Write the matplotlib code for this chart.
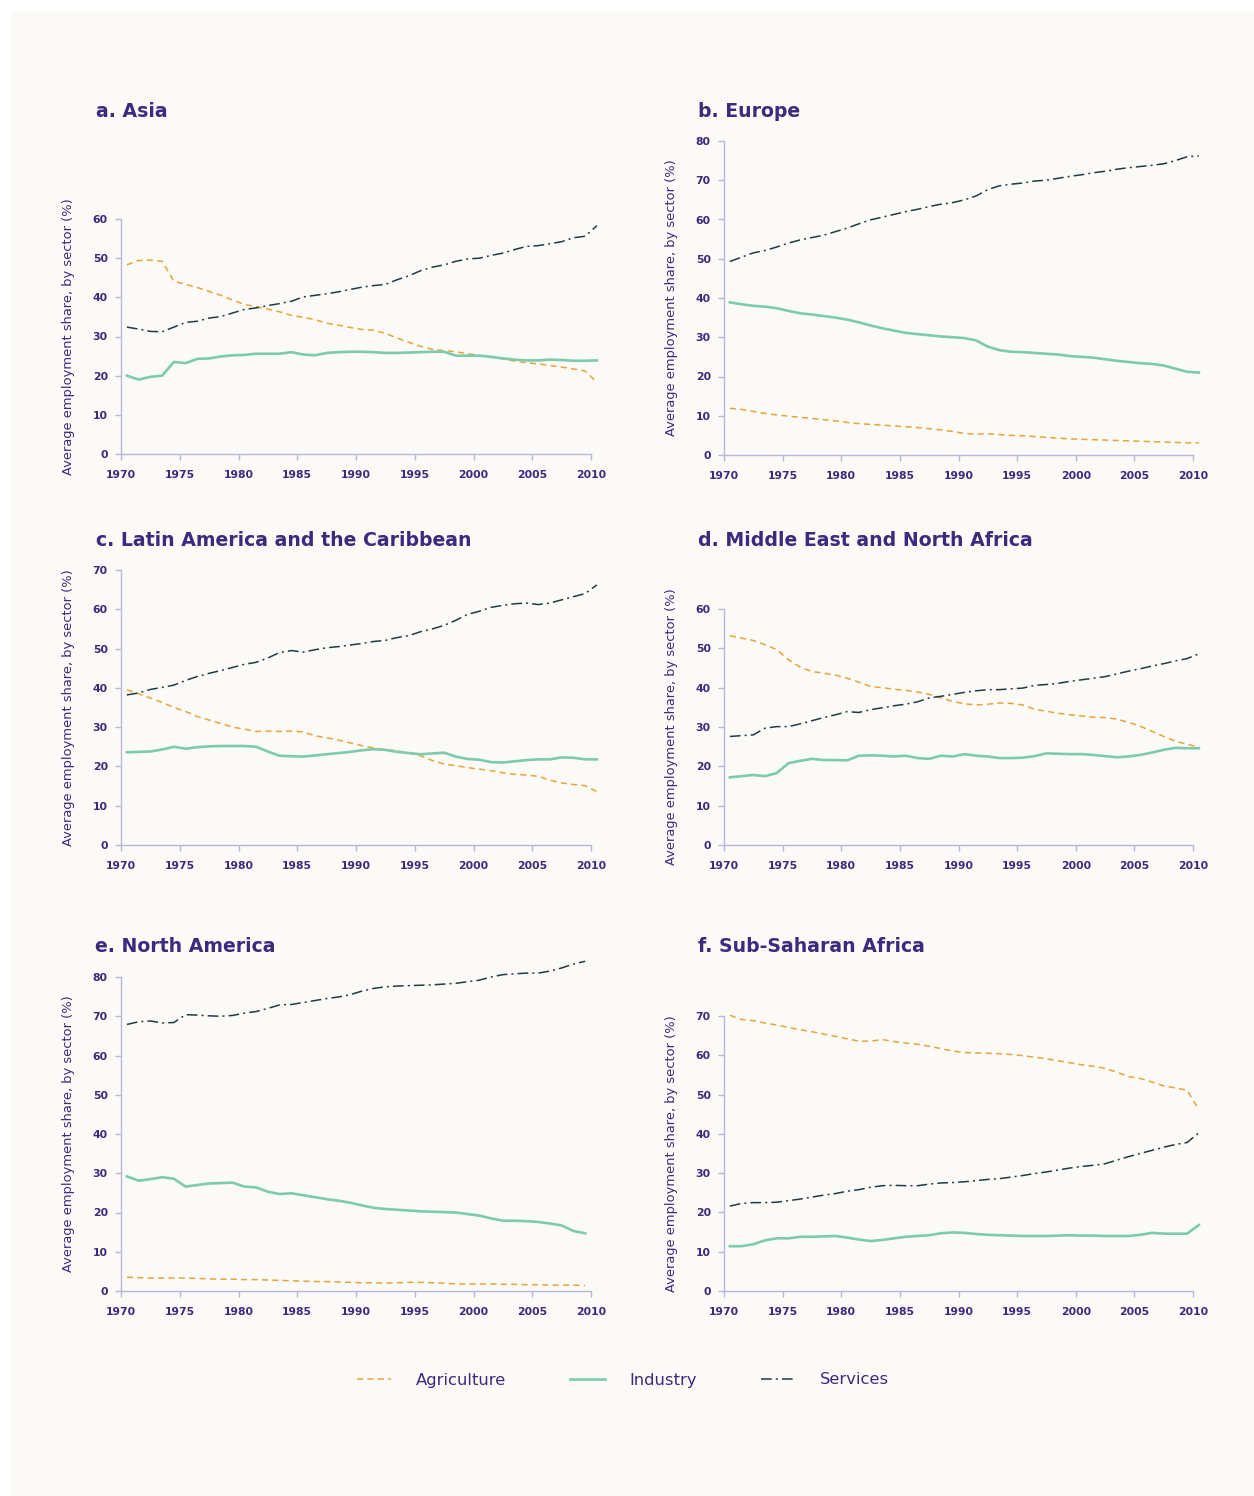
import numpy as np
import matplotlib
matplotlib.use('Agg')
import matplotlib.pyplot as plt
from matplotlib.patches import Rectangle

# ---------------------------------------------------------------- data
# points sit in the middle of each year, 1970.5 ... 2010.5
years = np.arange(1970, 2011) + 0.5

asia_agr = [48.3, 49.4, 49.5, 49.2, 44.1, 43.3, 42.5, 41.5, 40.5, 39.3,
            38.2, 37.6, 37.0, 36.3, 35.4, 34.9, 34.3, 33.4, 32.9, 32.3,
            31.8, 31.6, 30.8, 29.6, 28.5, 27.5, 26.7, 26.4, 26.1, 25.6,
            25.2, 24.7, 24.3, 23.7, 23.3, 23.0, 22.6, 22.2, 21.7, 21.2, 18.3]
asia_ind = [20.0, 19.0, 19.7, 20.0, 23.5, 23.2, 24.3, 24.4, 24.9, 25.2,
            25.3, 25.6, 25.6, 25.6, 26.0, 25.4, 25.2, 25.8, 26.0, 26.1,
            26.1, 26.0, 25.8, 25.8, 25.9, 26.0, 26.1, 26.1, 25.1, 25.1,
            25.1, 24.8, 24.4, 24.1, 23.9, 23.9, 24.1, 24.0, 23.8, 23.8, 23.9]
asia_ser = [32.4, 31.9, 31.3, 31.2, 32.4, 33.6, 33.9, 34.7, 35.1, 36.0,
            36.9, 37.3, 37.9, 38.4, 39.0, 40.1, 40.5, 40.9, 41.4, 42.0,
            42.6, 43.0, 43.3, 44.5, 45.5, 46.8, 47.7, 48.3, 49.2, 49.8,
            50.0, 50.7, 51.3, 52.2, 53.0, 53.2, 53.7, 54.2, 55.2, 55.6, 58.3]

eur_agr = [11.9, 11.6, 11.1, 10.6, 10.2, 9.9, 9.6, 9.3, 9.0, 8.7,
           8.3, 8.0, 7.8, 7.6, 7.4, 7.2, 7.0, 6.7, 6.4, 6.0,
           5.5, 5.3, 5.4, 5.2, 5.0, 4.9, 4.7, 4.5, 4.3, 4.1,
           4.0, 3.9, 3.8, 3.7, 3.6, 3.5, 3.4, 3.3, 3.2, 3.1, 3.1]
eur_ind = [38.9, 38.4, 38.0, 37.8, 37.4, 36.7, 36.1, 35.8, 35.4, 35.0,
           34.5, 33.8, 33.0, 32.3, 31.7, 31.1, 30.8, 30.5, 30.2, 30.0,
           29.8, 29.2, 27.6, 26.7, 26.3, 26.2, 26.0, 25.8, 25.6, 25.2,
           25.0, 24.8, 24.4, 24.0, 23.7, 23.4, 23.2, 22.8, 22.0, 21.2, 21.0]
eur_ser = [49.3, 50.4, 51.5, 52.1, 53.0, 54.0, 54.8, 55.4, 56.0, 56.9,
           57.8, 58.9, 59.9, 60.6, 61.3, 62.0, 62.6, 63.3, 63.9, 64.3,
           65.0, 66.0, 67.6, 68.6, 69.0, 69.3, 69.8, 70.0, 70.5, 71.0,
           71.4, 71.9, 72.3, 72.8, 73.2, 73.5, 73.8, 74.2, 75.0, 76.0, 76.2]

lac_agr = [39.5, 38.5, 37.4, 36.3, 35.0, 34.0, 32.7, 31.8, 30.9, 30.0,
           29.5, 28.9, 29.0, 28.9, 29.0, 28.8, 27.8, 27.3, 26.7, 26.0,
           25.3, 24.7, 24.3, 24.0, 23.4, 22.7, 21.5, 20.6, 20.2, 19.7,
           19.3, 18.9, 18.4, 18.0, 17.8, 17.5, 16.5, 15.8, 15.4, 15.1, 13.6]
lac_ind = [23.6, 23.7, 23.8, 24.3, 25.0, 24.5, 24.9, 25.1, 25.2, 25.2,
           25.2, 25.0, 23.8, 22.7, 22.6, 22.5, 22.8, 23.1, 23.4, 23.7,
           24.1, 24.4, 24.2, 23.7, 23.4, 23.1, 23.3, 23.5, 22.5, 21.9,
           21.7, 21.1, 21.0, 21.3, 21.6, 21.8, 21.8, 22.3, 22.2, 21.8, 21.8]
lac_ser = [38.2, 38.7, 39.6, 40.1, 40.7, 41.9, 42.9, 43.7, 44.4, 45.2,
           46.0, 46.5, 47.6, 49.0, 49.5, 49.1, 49.7, 50.2, 50.5, 50.9,
           51.3, 51.8, 52.1, 52.8, 53.3, 54.3, 55.0, 55.9, 57.2, 58.7,
           59.5, 60.5, 61.0, 61.4, 61.6, 61.2, 61.6, 62.4, 63.2, 64.0, 66.2]

mena_agr = [53.2, 52.6, 52.0, 50.9, 49.7, 47.1, 45.2, 44.1, 43.7, 43.2,
            42.4, 41.4, 40.3, 40.0, 39.6, 39.3, 38.9, 38.3, 37.4, 36.5,
            35.9, 35.6, 35.8, 36.1, 36.0, 35.6, 34.5, 34.0, 33.5, 33.1,
            32.8, 32.5, 32.4, 32.0, 31.2, 30.2, 28.9, 27.6, 26.4, 25.6, 24.9]
mena_ind = [17.2, 17.5, 17.8, 17.5, 18.3, 20.8, 21.4, 21.9, 21.6, 21.6,
            21.5, 22.7, 22.8, 22.7, 22.5, 22.7, 22.1, 21.9, 22.7, 22.5,
            23.1, 22.7, 22.5, 22.1, 22.1, 22.2, 22.6, 23.3, 23.2, 23.1,
            23.1, 22.9, 22.6, 22.3, 22.5, 22.9, 23.5, 24.2, 24.7, 24.6, 24.6]
mena_ser = [27.6, 27.8, 28.0, 29.7, 30.1, 30.1, 30.8, 31.6, 32.4, 33.1,
            33.9, 33.7, 34.4, 34.9, 35.4, 35.8, 36.4, 37.4, 37.8, 38.3,
            38.8, 39.2, 39.5, 39.5, 39.7, 39.9, 40.6, 40.8, 41.1, 41.6,
            42.0, 42.4, 42.8, 43.5, 44.2, 44.8, 45.5, 46.1, 46.8, 47.4, 48.6]

# North America stops one year earlier (40 points)
na_agr = [3.5, 3.4, 3.3, 3.3, 3.3, 3.3, 3.2, 3.1, 3.0, 3.0,
          2.9, 2.9, 2.8, 2.7, 2.6, 2.5, 2.4, 2.4, 2.3, 2.2,
          2.1, 2.1, 2.0, 2.1, 2.2, 2.2, 2.1, 2.0, 1.8, 1.8,
          1.8, 1.8, 1.7, 1.7, 1.6, 1.6, 1.5, 1.5, 1.5, 1.4]
na_ind = [29.2, 28.1, 28.5, 29.0, 28.6, 26.6, 27.0, 27.4, 27.5, 27.6,
          26.6, 26.4, 25.3, 24.7, 24.9, 24.4, 23.9, 23.4, 23.0, 22.5,
          21.8, 21.2, 20.9, 20.7, 20.5, 20.3, 20.2, 20.1, 20.0, 19.6,
          19.2, 18.5, 17.9, 17.9, 17.8, 17.6, 17.2, 16.7, 15.3, 14.7]
na_ser = [67.9, 68.6, 68.8, 68.3, 68.4, 70.4, 70.3, 70.1, 70.0, 70.2,
          70.8, 71.2, 72.0, 72.9, 73.0, 73.5, 74.0, 74.5, 74.9, 75.5,
          76.4, 77.1, 77.5, 77.7, 77.8, 77.9, 78.0, 78.2, 78.4, 78.8,
          79.2, 80.0, 80.6, 80.8, 81.0, 81.0, 81.5, 82.3, 83.3, 84.0]

ssa_agr = [70.2, 69.1, 68.8, 68.2, 67.7, 67.1, 66.5, 66.0, 65.4, 64.8,
           64.2, 63.6, 63.6, 64.0, 63.5, 63.1, 62.8, 62.3, 61.7, 61.1,
           60.7, 60.6, 60.5, 60.4, 60.2, 59.9, 59.5, 59.1, 58.6, 58.1,
           57.6, 57.2, 56.7, 55.7, 54.6, 54.1, 53.2, 52.2, 51.7, 51.1, 46.1]
ssa_ind = [11.4, 11.4, 11.9, 12.9, 13.4, 13.4, 13.8, 13.8, 13.9, 14.0,
           13.6, 13.1, 12.7, 13.0, 13.4, 13.8, 14.0, 14.2, 14.7, 14.9,
           14.8, 14.5, 14.3, 14.2, 14.1, 14.0, 14.0, 14.0, 14.1, 14.2,
           14.1, 14.1, 14.0, 14.0, 14.0, 14.3, 14.8, 14.6, 14.6, 14.6, 16.8]
ssa_ser = [21.6, 22.3, 22.5, 22.5, 22.6, 23.0, 23.4, 23.9, 24.4, 24.8,
           25.4, 25.8, 26.4, 26.8, 26.9, 26.8, 26.8, 27.2, 27.5, 27.6,
           27.8, 28.1, 28.4, 28.6, 29.0, 29.4, 29.9, 30.3, 30.8, 31.3,
           31.7, 32.0, 32.4, 33.3, 34.2, 35.0, 35.8, 36.6, 37.3, 37.8, 40.3]

titles = ['a. Asia', 'b. Europe', 'c. Latin America and the Caribbean',
          'd. Middle East and North Africa', 'e. North America',
          'f. Sub-Saharan Africa']
sectors = ['Agriculture', 'Industry', 'Services']
y_max = [60, 80, 70, 60, 80, 70]

# ---------------------------------------------------------------- style
W, H = 1254, 1496
BG = '#fbfaf6'
TEXT = '#3b2a7e'
SPINE = '#b9b5db'
ORANGE = '#e8a43c'
TEAL = '#7ccbae'
NAVY = '#1f3b47'

plt.rcParams['font.family'] = ['DejaVu Sans']

fig = plt.figure(figsize=(W / 100, H / 100), dpi=100)
fig.patch.set_facecolor('white')
fig.add_artist(Rectangle((11 / W, 0), 1 - 11 / W, 1 - 12 / H,
                         transform=fig.transFigure, facecolor=BG,
                         edgecolor='none', zorder=-10))

# pixel boxes (left, top, right, bottom) and title anchors
boxes = [(121, 219, 591, 454), (724, 141, 1193, 455),
         (121, 570, 591, 845), (724, 609, 1193, 845),
         (121, 977, 591, 1291), (724, 1016, 1193, 1291)]
title_pos = [(96, 117), (698, 117), (96, 546), (698, 546),
             (95, 952), (698, 952)]

series = [(asia_agr, asia_ind, asia_ser), (eur_agr, eur_ind, eur_ser),
          (lac_agr, lac_ind, lac_ser), (mena_agr, mena_ind, mena_ser),
          (na_agr, na_ind, na_ser), (ssa_agr, ssa_ind, ssa_ser)]

handles = None
for i in range(6):
    l, t, r, b = boxes[i]
    ax = fig.add_axes([l / W, 1 - b / H, (r - l) / W, (b - t) / H])
    ax.set_facecolor('none')
    agr, ind, ser = series[i]
    x = years[:len(agr)]
    h1, = ax.plot(x, agr, color=ORANGE, lw=1.1, dashes=(4, 2.8), clip_on=False)
    h2, = ax.plot(x, ind, color=TEAL, lw=1.9, clip_on=False)
    h3, = ax.plot(x, ser, color=NAVY, lw=1.1, dashes=(7, 2.7, 1.3, 2.7),
                  clip_on=False)
    if handles is None:
        handles = [h1, h2, h3]

    ax.set_xlim(1970, 2010)
    ax.set_ylim(0, y_max[i])
    ax.set_xticks(range(1970, 2011, 5))
    ax.set_yticks(range(0, y_max[i] + 1, 10))
    for s in ['top', 'right']:
        ax.spines[s].set_visible(False)
    for s in ['left', 'bottom']:
        ax.spines[s].set_color(SPINE)
        ax.spines[s].set_linewidth(1.0)
    ax.tick_params(axis='both', color=SPINE, labelcolor=TEXT, length=4.5,
                   width=1.0, labelsize=7.8)
    ax.tick_params(axis='x', pad=7)
    ax.tick_params(axis='y', pad=5)
    for lab in ax.get_xticklabels() + ax.get_yticklabels():
        lab.set_fontweight('bold')
    ax.set_ylabel('Average employment share, by sector (%)', fontsize=9.4,
                  color=TEXT)
    ax.yaxis.set_label_coords(-46 / (r - l), 0.5)

    tx, ty = title_pos[i]
    fig.text(tx / W, 1 - ty / H, titles[i], ha='left', va='baseline',
             fontsize=13.6, fontweight='bold', color=TEXT)

leg = fig.legend(handles, sectors, loc='center left',
                 bbox_to_anchor=(357 / W, 1 - 1380 / H), ncol=3,
                 frameon=False, fontsize=11.8, handlelength=2.1,
                 handletextpad=1.5, columnspacing=3.9, borderpad=0,
                 borderaxespad=0)
for txt in leg.get_texts():
    txt.set_color(TEXT)

fig.savefig('out.png', dpi=100, facecolor=fig.get_facecolor())
